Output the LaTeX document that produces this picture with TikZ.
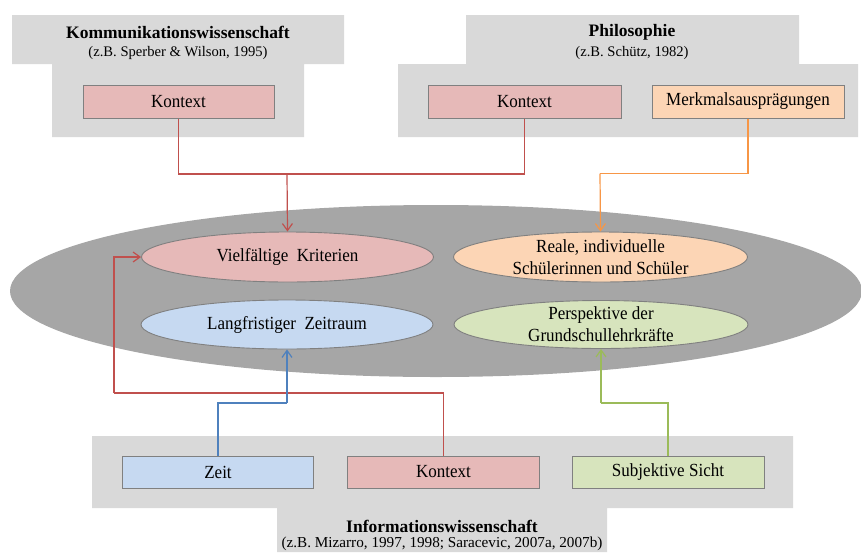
\documentclass[tikz,border=0pt]{standalone}
\usepackage{fontspec}
\setmainfont{Liberation Serif}
\newfontfamily\condserif[FakeStretch=0.92]{Liberation Serif}
\usetikzlibrary{shapes.geometric,arrows.meta}
\definecolor{panelgray}{HTML}{D9D9D9}
\definecolor{biggray}{HTML}{A6A6A6}
\definecolor{edgegray}{HTML}{808080}
\definecolor{redfill}{HTML}{E6B9B8}
\definecolor{redline}{HTML}{C0504D}
\definecolor{orangefill}{HTML}{FCD5B5}
\definecolor{orangeline}{HTML}{F79646}
\definecolor{bluefill}{HTML}{C6D9F1}
\definecolor{blueline}{HTML}{4F81BD}
\definecolor{greenfill}{HTML}{D7E4BD}
\definecolor{greenline}{HTML}{9BBB59}
\tikzset{
  panel/.style={fill=panelgray},
  head/.style={font=\fontsize{17.5}{20}\selectfont\bfseries, inner sep=0pt},
  subhead/.style={font=\fontsize{14.6}{18}\selectfont, inner sep=0pt},
  txt/.style={font=\condserif\fontsize{18.5}{22}\selectfont, align=center, inner sep=0pt},
  box/.style={draw=edgegray, line width=1pt, minimum width=191pt, minimum height=33pt, inner sep=0pt, font=\condserif\fontsize{18.5}{20}\selectfont},
  ell/.style={ellipse, draw=edgegray, line width=0.9pt, minimum width=292pt, minimum height=50pt, inner sep=0pt},
  conn/.style={line width=1.2pt},
  arr/.style={conn, -{Straight Barb[length=7pt,width=10pt,line width=1.2pt]}}
}
\begin{document}
\begin{tikzpicture}[x=1pt,y=-1pt]
\useasboundingbox (0,0) rectangle (861,552);
% panels
\fill[panel] (12,15) -- (344,15) -- (344,64) -- (304,64) -- (304,137) -- (52,137) -- (52,64) -- (12,64) -- cycle;
\fill[panel] (466,15) -- (799,15) -- (799,64) -- (858,64) -- (858,137) -- (398,137) -- (398,64) -- (466,64) -- cycle;
\fill[panel] (92,436) -- (793,436) -- (793,508) -- (607,508) -- (607,552) -- (277,552) -- (277,508) -- (92,508) -- cycle;
% headers
\node[head] (h1) at (178,32) {Kommunikationswissenschaft};
\node[subhead] (s1) at (178,53) {(z.B. Sperber \& Wilson, 1995)};
\node[head] (h2) at (632,32) {Philosophie};
\node[subhead] (s2) at (632,53) {(z.B. Schütz, 1982)};
\node[head] (h3) at (442,526) {Informationswissenschaft};
\node[subhead, font=\fontsize{15.2}{18}\selectfont] (s3) at (442,544) {(z.B. Mizarro, 1997, 1998; Saracevic, 2007a, 2007b)};
% boxes
\node[box, fill=redfill] (kl) at (178.5,101.5) {Kontext};
\node[box, fill=redfill, minimum width=193pt] (kr) at (524.5,101.5) {Kontext};
\node[box, fill=orangefill, minimum width=192pt] (mk) at (748,101.5) {Merkmalsausprägungen};
\node[box, fill=bluefill, minimum height=32pt] (zeit) at (218,472) {Zeit};
\node[box, fill=redfill, minimum height=32pt, minimum width=192pt] (kb) at (443.5,472) {Kontext};
\node[box, fill=greenfill, minimum height=32pt, minimum width=192pt] (ss) at (668,472) {Subjektive Sicht};
% big ellipse
\node[ellipse, fill=biggray, minimum width=852pt, minimum height=172pt, inner sep=0pt] (big) at (436,291) {};
% inner ellipses
\node[ell, fill=redfill, label={[txt]center:Vielfältige\ \ Kriterien}] (vk) at (287.5,257) {};
\node[ell, fill=orangefill, minimum width=294pt, label={[txt]center:Reale, individuelle\\Schülerinnen und Schüler}] (re) at (600.5,257) {};
\node[ell, fill=bluefill, minimum height=49pt, label={[txt]center:Langfristiger\ \ Zeitraum}] (lz) at (287,324.5) {};
\node[ell, fill=greenfill, minimum width=294pt, minimum height=48pt, label={[txt]center:Perspektive der\\Grundschullehrkräfte}] (pg) at (601,324.5) {};
% junction coordinates
\coordinate (j1) at (287,174);
\coordinate (j2) at (600,173.5);
\coordinate (j3) at (114,393);
\coordinate (j4) at (287,403);
\coordinate (j5) at (601,403);
% connectors
\draw[conn, redline] (kl.south) |- (j1);
\draw[conn, redline] (kr.south) |- (j1);
\draw[arr, redline] (j1) -- (vk.north);
\draw[conn, orangeline] (mk.south) |- (j2);
\draw[arr, orangeline] (j2) -- (re.north);
\draw[conn, redline] (kb.north) |- (j3);
\draw[arr, redline] (j3) |- (vk.west);
\draw[conn, blueline] (zeit.north) |- (j4);
\draw[arr, blueline] (j4) -- (lz.south);
\draw[conn, greenline] (ss.north) |- (j5);
\draw[arr, greenline] (j5) -- (pg.south);
\end{tikzpicture}
\end{document}
